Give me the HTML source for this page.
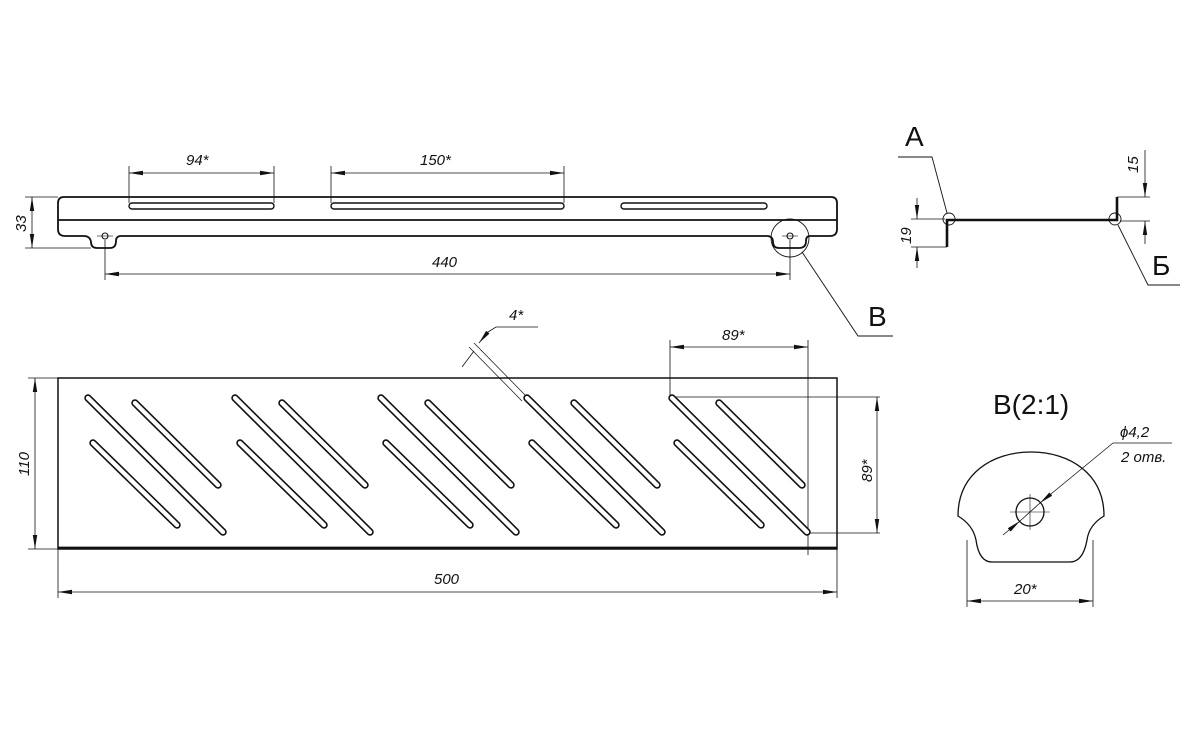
<!DOCTYPE html>
<html><head><meta charset="utf-8"><style>
html,body{margin:0;padding:0;background:#fff;}
svg{display:block;}
text{font-family:"Liberation Sans","DejaVu Sans",sans-serif;fill:#111;}
.t{font-style:italic;font-size:15px;}
</style></head><body>
<svg width="1200" height="751" viewBox="0 0 1200 751" xmlns="http://www.w3.org/2000/svg">
<defs>
<marker id="a" markerWidth="14" markerHeight="6" refX="14" refY="3" orient="auto" markerUnits="userSpaceOnUse"><path d="M0,0.8 L14,3 L0,5.2z" fill="#111"/></marker>
<marker id="b" markerWidth="14" markerHeight="6" refX="0" refY="3" orient="auto" markerUnits="userSpaceOnUse"><path d="M14,0.8 L0,3 L14,5.2z" fill="#111"/></marker>
</defs>
<g fill="none" stroke="#111" stroke-width="1.1">
<!-- TOP VIEW -->
<path d="M64,197 H831 Q837,197 837,203 V229 Q837,236 830,236 H810 Q806,236 806,241 Q806,248 799,248 H779 Q773,248 773,242 Q773,236 767,236 H121 Q116,236 116,241 Q116,248 110,248 H97 Q91,248 91,242 Q90,236 84,236 H65 Q58,236 58,229 V203 Q58,197 64,197 Z" stroke-width="1.8"/>
<line x1="58" y1="220" x2="837" y2="220" stroke-width="1.8"/>
<rect x="129" y="203" width="145" height="6" rx="3" stroke-width="1.4"/>
<rect x="331" y="203" width="233" height="6" rx="3" stroke-width="1.4"/>
<rect x="621" y="203" width="146" height="6" rx="3" stroke-width="1.4"/>
<circle cx="105" cy="236" r="3"/><line x1="97" y1="236" x2="113" y2="236" stroke-width="0.6"/>
<circle cx="790" cy="236" r="3"/><line x1="782" y1="236" x2="798" y2="236" stroke-width="0.6"/>
<circle cx="790" cy="238" r="19" stroke-width="0.9"/>
<polyline points="802,252 858,336 893,336" stroke-width="0.9"/>
<!-- dims top -->
<line x1="129" y1="166" x2="129" y2="203" stroke-width="0.8"/><line x1="274" y1="166" x2="274" y2="203" stroke-width="0.8"/>
<line x1="129" y1="173" x2="274" y2="173" marker-start="url(#b)" marker-end="url(#a)" stroke-width="0.8"/>
<line x1="331" y1="166" x2="331" y2="203" stroke-width="0.8"/><line x1="564" y1="166" x2="564" y2="203" stroke-width="0.8"/>
<line x1="331" y1="173" x2="564" y2="173" marker-start="url(#b)" marker-end="url(#a)" stroke-width="0.8"/>
<line x1="25" y1="197" x2="58" y2="197" stroke-width="0.8"/><line x1="25" y1="248" x2="91" y2="248" stroke-width="0.8"/>
<line x1="32" y1="197" x2="32" y2="248" marker-start="url(#b)" marker-end="url(#a)" stroke-width="0.8"/>
<line x1="105" y1="240" x2="105" y2="280" stroke-width="0.8"/><line x1="790" y1="240" x2="790" y2="280" stroke-width="0.8"/>
<line x1="105" y1="274" x2="790" y2="274" marker-start="url(#b)" marker-end="url(#a)" stroke-width="0.8"/>
<!-- SIDE VIEW -->
<polyline points="947,247 947,220 1117,220 1117,197" stroke-width="2.6"/>
<circle cx="949" cy="219" r="6" stroke-width="0.9"/><circle cx="1115" cy="219" r="6" stroke-width="0.9"/>
<polyline points="898,157 932,157 947,213" stroke-width="0.9"/>
<polyline points="1118,225 1148,285 1180,285" stroke-width="0.9"/>
<line x1="911" y1="219" x2="945" y2="219" stroke-width="0.7"/><line x1="911" y1="247" x2="947" y2="247" stroke-width="0.7"/>
<line x1="917" y1="198" x2="917" y2="219" marker-end="url(#a)" stroke-width="0.8"/>
<line x1="917" y1="268" x2="917" y2="247" marker-end="url(#a)" stroke-width="0.8"/>
<line x1="1117" y1="197" x2="1150" y2="197" stroke-width="0.7"/><line x1="1120" y1="221" x2="1150" y2="221" stroke-width="0.7"/>
<line x1="1145" y1="150" x2="1145" y2="197" marker-end="url(#a)" stroke-width="0.8"/>
<line x1="1145" y1="244" x2="1145" y2="221" marker-end="url(#a)" stroke-width="0.8"/>
<!-- PLATE -->
<rect x="58" y="378" width="779" height="171" stroke-width="1.5"/>
<line x1="58" y1="548" x2="837" y2="548" stroke-width="2.8"/>
<line x1="670" y1="397" x2="880" y2="397" stroke-width="0.8"/>
<line x1="808" y1="533" x2="880" y2="533" stroke-width="0.8"/>
<line x1="877" y1="397" x2="877" y2="533" marker-start="url(#b)" marker-end="url(#a)" stroke-width="0.8"/>
<line x1="670" y1="340" x2="670" y2="397" stroke-width="0.8"/><line x1="808" y1="340" x2="808" y2="555" stroke-width="0.8"/>
<line x1="670" y1="347" x2="808" y2="347" marker-start="url(#b)" marker-end="url(#a)" stroke-width="0.8"/>
<line x1="58" y1="549" x2="58" y2="598" stroke-width="0.8"/><line x1="837" y1="549" x2="837" y2="598" stroke-width="0.8"/>
<line x1="58" y1="592" x2="837" y2="592" marker-start="url(#b)" marker-end="url(#a)" stroke-width="0.8"/>
<line x1="28" y1="378" x2="58" y2="378" stroke-width="0.8"/><line x1="28" y1="549" x2="58" y2="549" stroke-width="0.8"/>
<line x1="35" y1="378" x2="35" y2="549" marker-start="url(#b)" marker-end="url(#a)" stroke-width="0.8"/>
<!-- 4* -->
<line x1="527" y1="397" x2="474" y2="343" stroke-width="0.7"/>
<line x1="522" y1="401" x2="469" y2="347" stroke-width="0.7"/>
<line x1="462" y1="367" x2="474" y2="351" stroke-width="0.8"/>
<line x1="488" y1="332" x2="479" y2="343" marker-end="url(#a)" stroke-width="0.8"/>
<polyline points="488,332 496,327 538,327" stroke-width="0.8"/>
<!-- DETAIL B -->
<path d="M958,516 C958,474 992,452 1031,452 C1070,452 1104,474 1104,516 Q1089,525 1087,540 Q1083,562 1070,562 H992 Q979,562 976,540 Q973,525 958,516 Z" stroke-width="1.3"/>
<circle cx="1030" cy="512" r="14" stroke-width="1.3"/>
<line x1="1010" y1="512" x2="1050" y2="512" stroke-width="0.6"/><line x1="1030" y1="494" x2="1030" y2="530" stroke-width="0.6"/>
<line x1="1003" y1="535" x2="1020" y2="521" marker-end="url(#a)" stroke-width="0.8"/>
<line x1="1113" y1="443" x2="1040" y2="503" marker-end="url(#a)" stroke-width="0.8"/>
<line x1="1040" y1="503" x2="1020" y2="521" stroke-width="0.8"/>
<line x1="1113" y1="443" x2="1172" y2="443" stroke-width="0.8"/>
<line x1="967" y1="540" x2="967" y2="607" stroke-width="0.8"/><line x1="1093" y1="540" x2="1093" y2="607" stroke-width="0.8"/>
<line x1="967" y1="601" x2="1093" y2="601" marker-start="url(#b)" marker-end="url(#a)" stroke-width="0.8"/>
</g>
<!-- slots in plate -->
<g stroke-linecap="round" fill="none">
<g id="grp">
<path d="M88,398 L223,532 M135,403 L218,485 M93,443 L177,525" stroke="#111" stroke-width="7.5"/>
<path d="M88,398 L223,532 M135,403 L218,485 M93,443 L177,525" stroke="#fff" stroke-width="4.3"/>
</g>
<use href="#grp" x="147"/>
<use href="#grp" x="293"/>
<use href="#grp" x="439"/>
<use href="#grp" x="584"/>
</g>
<!-- text -->
<text class="t" x="186" y="165">94*</text>
<text class="t" x="420" y="165">150*</text>
<text class="t" x="432" y="267">440</text>
<text class="t" transform="translate(26,232) rotate(-90)">33</text>
<text x="868" y="326" font-size="28">В</text>
<text x="905" y="146" font-size="28">А</text>
<text x="1152" y="275" font-size="28">Б</text>
<text class="t" transform="translate(911,244) rotate(-90)" font-size="14">19</text>
<text class="t" transform="translate(1138,173) rotate(-90)" font-size="14">15</text>
<text class="t" x="509" y="320">4*</text>
<text class="t" x="722" y="340">89*</text>
<text class="t" transform="translate(872,482) rotate(-90)">89*</text>
<text class="t" transform="translate(29,476) rotate(-90)">110</text>
<text class="t" x="434" y="584">500</text>
<text x="993" y="414" font-size="28">В(2:1)</text>
<text class="t" x="1120" y="437" font-size="14">ϕ4,2</text>
<text class="t" x="1121" y="462" font-size="14">2 отв.</text>
<text class="t" x="1014" y="594">20*</text>
</svg>
</body></html>
